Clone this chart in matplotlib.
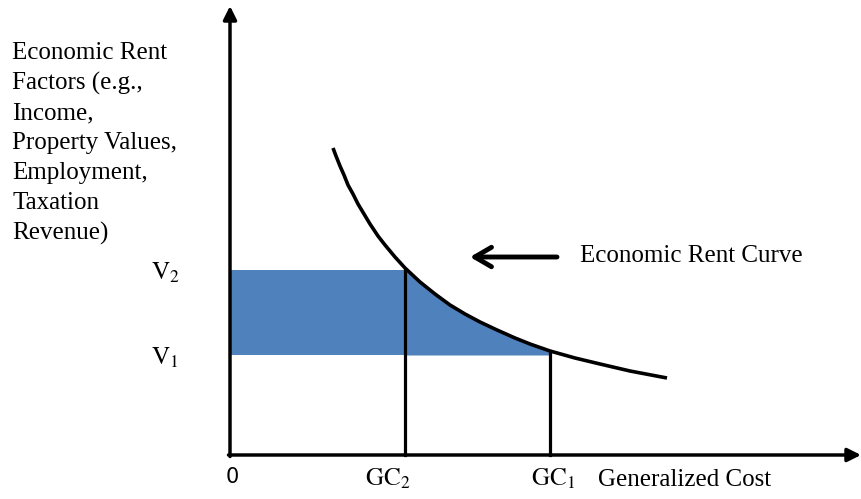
import matplotlib
matplotlib.use("Agg")
import matplotlib.pyplot as plt
import numpy as np

plt.rcParams['font.family'] = ['Liberation Serif', 'DejaVu Serif']
plt.rcParams['mathtext.fontset'] = 'stix'

# economic rent curve (x = generalized cost, y = rent)
curve_x = [103, 106, 110, 114, 118, 123, 128, 134, 140, 148, 155, 165, 175, 190, 205, 220, 235, 250, 267, 285, 300, 320, 345, 370, 400, 437]
curve_y = [307, 299, 289, 280, 270, 261, 251, 241, 231, 219, 210, 198, 187, 173, 161, 150, 141, 133, 125, 117, 111, 104, 97, 91, 84, 77]

gc_values = [175, 320]          # GC2, GC1
gc_labels = [r'$\mathrm{GC}_2$', r'$\mathrm{GC}_1$']
gc_text_x = [158, 323]
v_values = [185, 100]           # V2, V1
v_labels = [r'$\mathrm{V}_2$', r'$\mathrm{V}_1$']

y_label = "Economic Rent\nFactors (e.g.,\nIncome,\nProperty Values,\nEmployment,\nTaxation\nRevenue)"

fig = plt.figure(figsize=(8.61, 4.99), dpi=100)
ax = fig.add_axes([0, 0, 1, 1])
ax.set_xlim(-230, 631)
ax.set_ylim(-44, 455)
ax.axis('off')

cx = np.array(curve_x)
cy = np.array(curve_y)
blue = '#4F81BD'

# shaded area: rectangle up to GC2 at V2, then under the curve down to GC1
ax.fill_between([0, gc_values[0]], v_values[1], v_values[0], color=blue, lw=0, zorder=1)
m = (cx >= gc_values[0]) & (cx <= gc_values[1])
ax.fill_between(cx[m], v_values[1], cy[m], color=blue, lw=0, zorder=1)

# curve
ax.plot(cx, cy, color='black', lw=2.6, solid_capstyle='butt', solid_joinstyle='round', zorder=3)

# vertical lines at GC2 and GC1
ax.plot([gc_values[0], gc_values[0]], [0, v_values[0]], color='black', lw=2.3, zorder=2)
ax.plot([gc_values[1], gc_values[1]], [0, cy[cx == gc_values[1]][0]], color='black', lw=2.3, zorder=2)

# axes with arrows
ax.annotate('', xy=(0, 449), xytext=(0, -1.5),
            arrowprops=dict(arrowstyle='-|>', lw=2.5, color='black', mutation_scale=20, shrinkA=0, shrinkB=0))
ax.annotate('', xy=(631, 0), xytext=(-1.5, 0),
            arrowprops=dict(arrowstyle='-|>', lw=2.5, color='black', mutation_scale=20, shrinkA=0, shrinkB=0))

# labels
fs = 18
ax.text(-218, 413, y_label, fontsize=fs, va='top', ha='left', linespacing=1.45)
ax.text(2, -22, '0', fontsize=15, family='DejaVu Sans', ha='center', va='center')
for gx, lab in zip(gc_text_x, gc_labels):
    ax.text(gx, -31, lab, fontsize=fs, ha='center', va='baseline')
for v, lab in zip(v_values, v_labels):
    ax.text(-65, v - 10, lab, fontsize=fs, ha='center', va='baseline')
ax.text(368, -31, 'Generalized Cost', fontsize=fs, ha='left', va='baseline')

ax.annotate('', xy=(240, 198), xytext=(327, 198),
            arrowprops=dict(arrowstyle='->,head_length=0.6,head_width=0.35', lw=3.5, color='black',
                            mutation_scale=20, shrinkA=0, shrinkB=0))
ax.text(350, 199, 'Economic Rent Curve', fontsize=fs, ha='left', va='center')

fig.savefig('out.png', dpi=100)
